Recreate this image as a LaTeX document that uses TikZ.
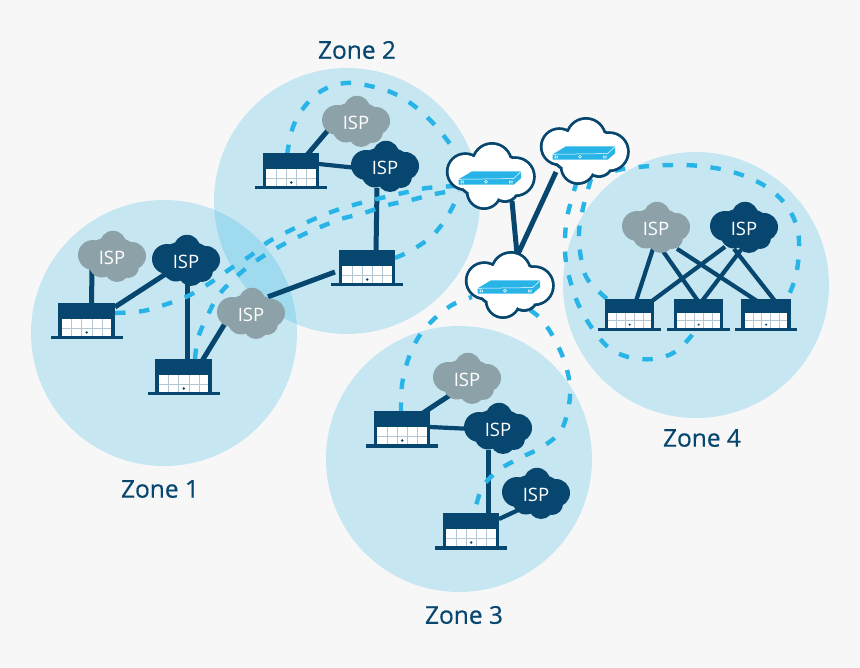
\documentclass[tikz,border=0pt]{standalone}
\usepackage{fontspec}
\setmainfont{Open Sans}
\newfontfamily\zonefont[FakeBold=0.5]{Open Sans}
\usetikzlibrary{calc}
\definecolor{bgc}{HTML}{F7F7F7}
\definecolor{zonec}{RGB}{28,176,229}
\definecolor{navy}{HTML}{07476F}
\definecolor{greyc}{HTML}{8DA2A8}
\definecolor{dashc}{HTML}{29B4E7}
\definecolor{mull}{HTML}{B4C6D2}
\pgfdeclarelayer{bg}\pgfdeclarelayer{conn}\pgfdeclarelayer{dsh}
\pgfsetlayers{bg,conn,dsh,main}
\tikzset{
  zone/.style={fill=zonec,fill opacity=.224},
  link/.style={draw=navy,line width=5pt},
  linkthin/.style={draw=navy,line width=4.2pt},
  dashln/.style={draw=dashc,line width=4.4pt,dash pattern=on 10.5pt off 13.5pt},
  shopbody/.style={fill=navy,inner sep=0pt,outer sep=0pt,anchor=north,minimum width=#1},
  isptext/.style={text=white,inner sep=0pt,font=\fontsize{18.5}{18.5}\selectfont},
  zonelabel/.style={text=navy,inner sep=0pt,font=\zonefont\fontsize{24.5}{24.5}\selectfont},
}
% name, centre x, top y, scale
\newcommand\shopat[4]{%
  \node[shopbody=#4*56.5pt,minimum height=#4*34.5pt] (#1) at (#2,#3) {};
  \begin{scope}[shift={(#2,#3)},scale=#4]
    \fill[navy] (-36,33) rectangle (36,36.5);
    \fill[white] (-24.6,16) rectangle (24.6,33);
    \draw[mull,line width=.9pt] (-15,16)--(-15,33) (-5,16)--(-5,33) (5.5,16)--(5.5,33) (15.5,16)--(15.5,33) (-24.6,25)--(24.6,25);
    \fill[navy] (0.2,29.5) circle (1.3);
  \end{scope}}
% name, x, y, colour
\newcommand\ispcloud[4]{%
  \begin{scope}[shift={(#2,#3)}]
    \fill[#4] (-19,-1) circle (15) (1,-12) circle (13.2) (20,0) circle (14) (5,13.5) circle (12.5) (16,11) circle (11) (-10,8) circle (13.5) (0,0) ellipse (28 and 19);
  \end{scope}
  \node[isptext] (#1) at (#2,#3+1.8) {ISP};}
% name, x, y
\newcommand\netcloud[3]{%
  \node[inner sep=0pt,minimum size=1pt] (#1) at (#2,#3) {};
  \begin{scope}[shift={(#2,#3)}]
    \fill[navy] (-25.7,-4.3) circle (19.5) (1,-13) circle (21) (24.3,0.7) circle (20.5) (-7,15.7) circle (18.3) (14,12) circle (15) (0,0) ellipse (36 and 25);
    \fill[white] (-25.7,-4.3) circle (16.7) (1,-13) circle (18.2) (24.3,0.7) circle (17.7) (-7,15.7) circle (15.5) (14,12) circle (12.2) (0,0) ellipse (33 and 22);
    \fill[dashc] (-32.3,3.3) -- (-19,-4.7) -- (30,-4.7) -- (30,2.3) -- (22.7,8.7) -- (-32.3,8.7) -- cycle;
    \draw[white,line width=.5pt] (-32.3,3.3) -- (22.7,2.6) -- (30,-4.5);
    \fill[white,opacity=.75] (-30.5,4.6) rectangle (-29.2,7.4) (-28.4,4.6) rectangle (-27.1,7.4) (18.2,4.6) rectangle (19.5,7.4) (20.3,4.6) rectangle (21.6,7.4);
    \draw[white,line width=.6pt] (-5,5.8) circle (1.5);
  \end{scope}}
\begin{document}
\begin{tikzpicture}[x=1pt,y=-1pt]
\useasboundingbox (0,0) rectangle (860,668);
\begin{pgfonlayer}{bg}
  \fill[bgc] (0,0) rectangle (860,668);
  \path[zone] (164,333) circle (133);
  \path[zone] (347,201) circle (133);
  \path[zone] (459,459) circle (133);
  \path[zone] (696,285) circle (133);
\end{pgfonlayer}

% Clouds
\ispcloud{g1}{112}{256}{greyc}
\ispcloud{d1}{186}{260}{navy}
\ispcloud{g3}{251}{313}{greyc}
\ispcloud{g2}{356}{121}{greyc}
\ispcloud{d2}{385}{166}{navy}
\ispcloud{gc}{467}{378}{greyc}
\ispcloud{dc}{498}{428}{navy}
\ispcloud{ec}{536}{493}{navy}
\ispcloud{gz}{656}{227}{greyc}
\ispcloud{dz}{744}{227}{navy}
\netcloud{n1}{491}{176}
\netcloud{n2}{585}{151}
\netcloud{n3}{510}{285}

% Shops
\shopat{a1}{86.5}{303}{1}
\shopat{a2}{183.5}{359}{1}
\shopat{b1}{291}{153}{1}
\shopat{b2}{367}{250}{1}
\shopat{c1}{402}{411}{1}
\shopat{c2}{471}{513}{1}
\shopat{f1}{629.5}{299}{.87}
\shopat{f2}{698.5}{299}{.87}
\shopat{f3}{766}{299}{.87}

\begin{pgfonlayer}{conn}
  \draw[link] ([shift={(-20,10)}]g1.center) -- ([shift={(5,2)}]a1.north);
  \draw[link] ([shift={(-20,12)}]d1.center) -- ([shift={(28.5,4)}]a1.north);
  \draw[link] ([shift={(1,10)}]d1.center) -- ([shift={(3.5,2)}]a2.north);
  \draw[link] ([shift={(-25,7)}]g3.center) -- ([shift={(18.5,2)}]a2.north);
  \draw[link] ([shift={(17,-18)}]g3.center) -- ([shift={(-32,22)}]b2.north);
  \draw[link] ([shift={(-25,4)}]g2.center) -- ([shift={(16,2)}]b1.north);
  \draw[linkthin] ([shift={(-30,0)}]d2.center) -- ([shift={(28,11)}]b1.north);
  \draw[link] ([shift={(-8,20)}]d2.center) -- ([shift={(9,2)}]b2.north);
  \draw[link] ([shift={(-15,14)}]gc.center) -- ([shift={(21,2)}]c1.north);
  \draw[linkthin] ([shift={(-30,-1)}]dc.center) -- ([shift={(28,16)}]c1.north);
  \draw[link] ([shift={(-10,20)}]dc.center) -- ([shift={(17,2)}]c2.north);
  \draw[linkthin] ([shift={(-15,14)}]ec.center) -- ([shift={(28,6)}]c2.north);
  \draw[linkthin] ([shift={(-3,20)}]gz.center) -- ([shift={(6.5,2)}]f1.north);
  \draw[linkthin] ([shift={(6,21)}]gz.center) -- ([shift={(-.5,2)}]f2.north);
  \draw[linkthin] ([shift={(21,20)}]gz.center) -- ([shift={(-9,2)}]f3.north);
  \draw[linkthin] ([shift={(-19,18)}]dz.center) -- ([shift={(22.5,2)}]f1.north);
  \draw[linkthin] ([shift={(-3,21)}]dz.center) -- ([shift={(3.5,2)}]f2.north);
  \draw[linkthin] ([shift={(-10,20)}]dz.center) -- ([shift={(9,2)}]f3.north);
  \draw[link] ([shift={(21,25)}]n1.center) -- ([shift={(7,-31)}]n3.center);
  \draw[link] ([shift={(-29,21)}]n2.center) -- ([shift={(8,-31)}]n3.center);
\end{pgfonlayer}

\begin{pgfonlayer}{dsh}
  % Zone 2 outer loop
  \draw[dashln] plot[smooth,tension=.6] coordinates {([shift={(-4,2)}]b1.north) (293,127) (305,106) (323,90) (346,83) (370,86) (393,93) (413,105) (432,122) (447,140) ([shift={(-34,-22)}]n1.center)};
  % Zone 2 lower shop to left net cloud
  \draw[dashln] plot[smooth,tension=.6] coordinates {([shift={(28,8)}]b2.north) (412,250) (432,236) (447,217) ([shift={(-32,18)}]n1.center)};
  % Zone 1 double run
  \draw[dashln] plot[smooth,tension=.6] coordinates {([shift={(28.5,10)}]a1.north) (143,311) (167,304) (188,296) (210,283) (230,269) (250,256) (268,242) (289,231) (312,220) (334,211) (357,204) (381,198) (403,193) (427,188) ([shift={(-34,10)}]n1.center)};
  \draw[dashln] plot[smooth,tension=.6] coordinates {([shift={(11.5,0)}]a2.north) (198,338) (207,317) (218,296) (235,278) (253,263) (275,249) (296,238) (318,228) (341,219) (364,213) (388,205) (411,200) (435,194) ([shift={(-32,14)}]n1.center)};
  % Zone 3
  \draw[dashln] plot[smooth,tension=.6] coordinates {([shift={(-1,2)}]c1.north) (402,385) (408,360) (418,338) (433,320) (452,305) ([shift={(-38,12)}]n3.center)};
  \draw[dashln] plot[smooth,tension=.6] coordinates {([shift={(20,25)}]n3.center) (542,320) (555,340) (565,363) (570,387) (568,410) (560,432) (542,447) (520,458) (499,470) (482,488) ([shift={(3,2)}]c2.north)};
  % Zone 4
  \draw[dashln] plot[smooth,tension=.6] coordinates {([shift={(-8,30)}]n2.center) (568,213) (565,238) (566,262) (572,287) (580,308) (592,328) (608,347) (628,357) (653,359) (675,352) (692,335) ([shift={(-3,-2)}]f2.south)};
  \draw[dashln] plot[smooth,tension=.6] coordinates {([shift={(6,28)}]n2.center) (583,208) (579,233) (581,258) (588,280) ([shift={(-20,2)}]f1.north)};
  \draw[dashln] plot[smooth,tension=.6] coordinates {([shift={(30,20)}]n2.center) (623,169) (650,166) (677,165) (700,166) (725,170) (747,177) (768,188) (786,205) (797,227) (799,250) (796,275) (789,295) ([shift={(19,4)}]f3.north)};
\end{pgfonlayer}

\node[zonelabel] (z2) at (357,50) {Zone 2};
\node[zonelabel] (z1) at (160,489) {Zone 1};
\node[zonelabel] (z3) at (464,615) {Zone 3};
\node[zonelabel] (z4) at (702,438) {Zone 4};
\end{tikzpicture}
\end{document}
